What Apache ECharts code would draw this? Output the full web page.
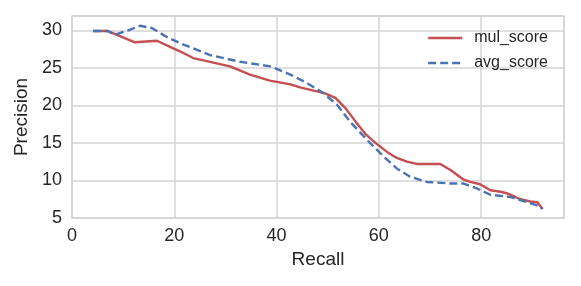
<!DOCTYPE html>
<html>
<head>
<meta charset="utf-8">
<script src="https://cdn.jsdelivr.net/npm/echarts@6/dist/echarts.min.js"></script>
<style>
html,body{margin:0;padding:0;background:#fff;}
#c{width:581px;height:286px;}
</style>
</head>
<body>
<div id="c"></div>
<script>
const mulX = [4.1, 7, 8.8, 12.3, 16.6, 19.8, 21.1, 23.7, 30.9, 34.8, 38.7, 42.7, 44.6, 49.5, 51.5, 53.5, 55.5, 57.5, 59.5, 61.6, 63.5, 65.5, 67.4, 72, 74, 76.6, 77.9, 79.8, 81.8, 83.8, 85, 86.7, 87.7, 89.6, 91, 92];
const mulY = [29.9, 29.9, 29.4, 28.4, 28.6, 27.6, 27.2, 26.3, 25.2, 24.1, 23.3, 22.8, 22.4, 21.6, 21.0, 19.6, 17.8, 16.1, 14.9, 13.8, 13.0, 12.5, 12.2, 12.2, 11.4, 10.1, 9.8, 9.5, 8.7, 8.5, 8.3, 7.8, 7.5, 7.2, 7.1, 6.2];
const avgX = [4.1, 7, 8.4, 11, 13.3, 15.6, 18.8, 21.8, 27, 32.9, 38.7, 42.7, 45.9, 49.2, 51.8, 54.4, 57.7, 60.9, 63.5, 66.1, 69.4, 74, 76.5, 78.9, 81.8, 85.7, 88.6, 91.6, 92];
const avgY = [29.9, 29.9, 29.4, 30.0, 30.6, 30.3, 29.0, 28.1, 26.7, 25.8, 25.2, 24.1, 23.0, 21.6, 20.1, 17.8, 15.4, 13.2, 11.6, 10.5, 9.8, 9.6, 9.6, 9.0, 8.1, 7.8, 7.2, 6.5, 6.2];
const seriesNames = ['mul_score', 'avg_score'];

const pair = (xs, ys) => xs.map((x, i) => [x, ys[i]]);
const txt = '#262626';
const gridColor = '#d3d3d3';
const font = 'Liberation Sans, Arial, sans-serif';

const chart = echarts.init(document.getElementById('c'), null, {renderer: 'canvas'});
chart.setOption({
  animation: false,
  backgroundColor: '#fff',
  grid: {left: 72, top: 16, right: 17, bottom: 68, show: true, borderColor: gridColor, borderWidth: 1.5, backgroundColor: '#fff'},
  legend: {
    right: 28, top: 25, orient: 'vertical', itemWidth: 34, itemHeight: 14, itemGap: 9,
    itemStyle: {opacity: 0},
    lineStyle: {width: 2.4},
    textStyle: {fontSize: 16, color: txt, fontFamily: font, padding: [0, 0, 0, 7]},
    data: seriesNames
  },
  xAxis: {
    type: 'value', min: 0, max: 96.2, interval: 20,
    name: 'Recall', nameLocation: 'middle', nameGap: 28,
    nameTextStyle: {fontSize: 19, color: txt, fontFamily: font},
    axisLine: {show: false}, axisTick: {show: false},
    axisLabel: {fontSize: 18, color: txt, fontFamily: font, margin: 9, showMaxLabel: false},
    splitLine: {show: true, lineStyle: {color: gridColor, width: 1.5}}
  },
  yAxis: {
    type: 'value', min: 5, max: 31.9, interval: 5,
    name: 'Precision', nameLocation: 'middle', nameGap: 38,
    nameTextStyle: {fontSize: 19, color: txt, fontFamily: font},
    axisLine: {show: false}, axisTick: {show: false},
    axisLabel: {fontSize: 18, color: txt, fontFamily: font, margin: 10, showMaxLabel: false},
    splitLine: {show: true, lineStyle: {color: gridColor, width: 1.5}}
  },
  series: [
    {name: seriesNames[0], type: 'line', data: pair(mulX, mulY), showSymbol: false, symbol: 'none',
     lineStyle: {color: '#c44e52', width: 2.4}, itemStyle: {color: '#c44e52'}},
    {name: seriesNames[1], type: 'line', data: pair(avgX, avgY), showSymbol: false, symbol: 'none',
     lineStyle: {color: '#4c72b0', width: 2.4, type: [8, 4]}, itemStyle: {color: '#4c72b0'}}
  ]
});
</script>
</body>
</html>
